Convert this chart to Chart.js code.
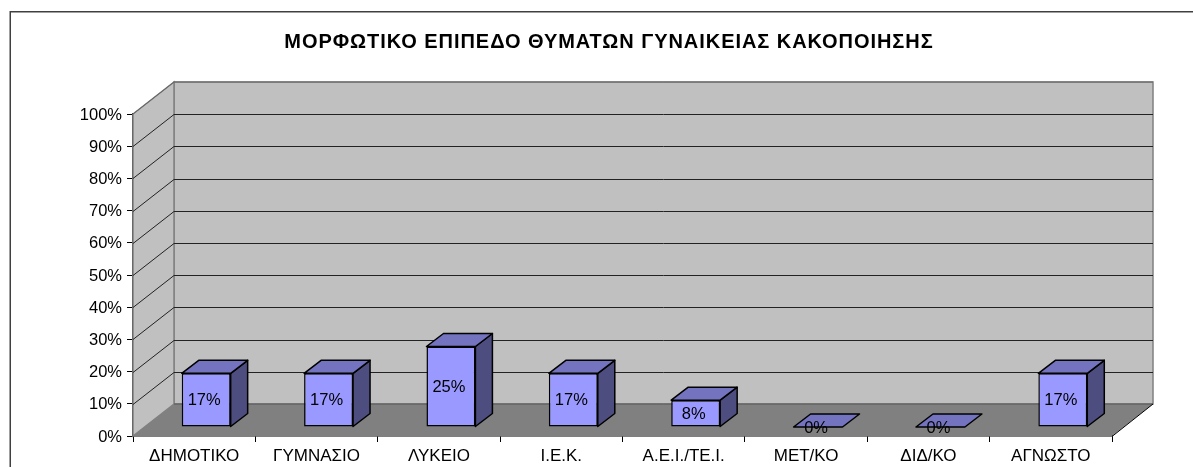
<!DOCTYPE html>
<html><head><meta charset="utf-8">
<style>html,body{margin:0;padding:0;background:#fff;overflow:hidden}canvas{display:block}</style>
<script src="https://cdn.jsdelivr.net/npm/chart.js@4/dist/chart.umd.js"></script>
</head><body><canvas id="c" width="1193" height="467"></canvas>
<script>
const categories = ["ΔΗΜΟΤΙΚΟ","ΓΥΜΝΑΣΙΟ","ΛΥΚΕΙΟ","Ι.Ε.Κ.","Α.Ε.Ι./ΤΕ.Ι.","ΜΕΤ/ΚΟ","ΔΙΔ/ΚΟ","ΑΓΝΩΣΤΟ"];
const shares = [16.67,16.67,25,16.67,8.33,0,0,16.67];
const titleText = "ΜΟΡΦΩΤΙΚΟ ΕΠΙΠΕΔΟ ΘΥΜΑΤΩΝ ΓΥΝΑΙΚΕΙΑΣ ΚΑΚΟΠΟΙΗΣΗΣ";
const FONT = '"Liberation Sans", Arial, sans-serif';
const DEPTH_X = 41, DEPTH_Y = 32;
const BAR_DX = 12, BAR_DY = 9;
const BAR_DEPTH_X = 17, BAR_DEPTH_Y = 13;

function poly(ctx, pts, fill, stroke, lw){
  ctx.beginPath();
  pts.forEach((p,i)=> i ? ctx.lineTo(p[0],p[1]) : ctx.moveTo(p[0],p[1]));
  ctx.closePath();
  if(fill){ctx.fillStyle=fill;ctx.fill();}
  if(stroke){ctx.strokeStyle=stroke;ctx.lineWidth=lw||1;ctx.stroke();}
}
const frame = {
  id:'frame',
  beforeDraw(chart){
    const c=chart.ctx; c.save();
    c.fillStyle='#fff'; c.fillRect(0,0,1193,467);
    c.strokeStyle='#404040'; c.lineWidth=1.5;
    c.strokeRect(10.25,11.75,1200,480);
    c.restore();
  }
};
const walls = {
  id:'walls',
  beforeDatasetsDraw(chart){
    const c=chart.ctx, a=chart.chartArea, y=chart.scales.y;
    const L=a.left,R=a.right,T=a.top,B=a.bottom,dx=DEPTH_X,dy=DEPTH_Y;
    c.save();
    poly(c,[[L+dx,T-dy],[R+dx,T-dy],[R+dx,B-dy],[L+dx,B-dy]],'#c0c0c0','#808080',1.5);
    poly(c,[[L,T],[L+dx,T-dy],[L+dx,B-dy],[L,B]],'#c0c0c0','#808080',1.5);
    poly(c,[[L,B],[L+dx,B-dy],[R+dx,B-dy],[R,B]],'#808080');
    c.lineWidth=1;
    y.ticks.forEach(t=>{
      if(t.value===0||t.value===100) return;
      const p=Math.round(y.getPixelForValue(t.value))+0.5;
      c.strokeStyle='#222';
      c.beginPath();c.moveTo(L,p);c.lineTo(L+dx,p-dy);c.lineTo(R+dx,p-dy);c.stroke();
    });
    c.strokeStyle='#666';c.beginPath();c.moveTo(L,T);c.lineTo(L+dx,T-dy);c.lineTo(R+dx,T-dy);c.stroke();
    c.strokeStyle='#555';c.beginPath();c.moveTo(L+dx,B-dy);c.lineTo(R+dx,B-dy);c.stroke();
    c.strokeStyle='#000';c.beginPath();c.moveTo(R,B+0.5);c.lineTo(R+dx,B-dy);c.stroke();
    c.restore();
    c.save(); c.translate(BAR_DX,-BAR_DY);
  },
  afterDatasetsDraw(chart){
    const c=chart.ctx;
    c.restore();
    chart.getDatasetMeta(0).data.forEach((bar,i)=>{
      const p=bar.getProps(['x','y','base','width'],true);
      const l=p.x-p.width/2+BAR_DX, r=p.x+p.width/2+BAR_DX, t=p.y-BAR_DY, b=p.base-BAR_DY;
      const dx=BAR_DEPTH_X,dy=BAR_DEPTH_Y;
      c.save(); c.lineJoin='round';
      if(b-t>0.5) poly(c,[[r,t],[r+dx,t-dy],[r+dx,b-dy],[r,b]],'#4d4d80','#000',1.5);
      poly(c,[[l,t],[l+dx,t-dy],[r+dx,t-dy],[r,t]],'#7373bf','#000',1.5);
      c.fillStyle='#000'; c.font='16.5px '+FONT; c.textAlign='center'; c.textBaseline='middle';
      c.fillText(Math.round(shares[i])+'%', (l+r)/2-2, (t+b)/2+1);
      c.restore();
    });
  }
};
const titlePlugin={id:'ttl',afterDraw(chart){
  const c=chart.ctx;c.save();c.fillStyle='#000';c.font='bold 20px '+FONT;c.textAlign='center';c.textBaseline='middle';
  if('letterSpacing' in c)c.letterSpacing='0.95px';
  c.fillText(titleText,609,42);c.restore();}};
new Chart(document.getElementById('c'),{
  type:'bar',
  data:{labels:categories,datasets:[{data:shares,backgroundColor:'#9999ff',borderColor:'#000',borderWidth:1.5,borderSkipped:false,barPercentage:0.4,categoryPercentage:1}]},
  plugins:[frame,walls,titlePlugin],
  options:{
    responsive:false,animation:false,
    layout:{padding:{left:0,right:1193-1112,top:114,bottom:0}},
    plugins:{legend:{display:false},tooltip:{enabled:false},title:{display:false}},
    scales:{
      x:{
        grid:{drawOnChartArea:false,tickLength:6,color:'#000',tickColor:'#000'},
        border:{color:'#000',width:1.5},
        ticks:{color:'#000',font:{family:FONT,size:17},padding:4,maxRotation:0,autoSkip:false},
        afterFit(s){s.height=467-436;}
      },
      y:{
        min:0,max:100,
        grid:{drawOnChartArea:false,tickLength:6,color:'#000',tickColor:'#000'},
        border:{color:'#222',width:1.5},
        ticks:{stepSize:10,color:'#000',font:{family:FONT,size:16.5},padding:5,labelOffset:1,callback:v=>v+'%'},
        afterFit(s){s.width=133;}
      }
    }
  }
});
</script></body></html>
